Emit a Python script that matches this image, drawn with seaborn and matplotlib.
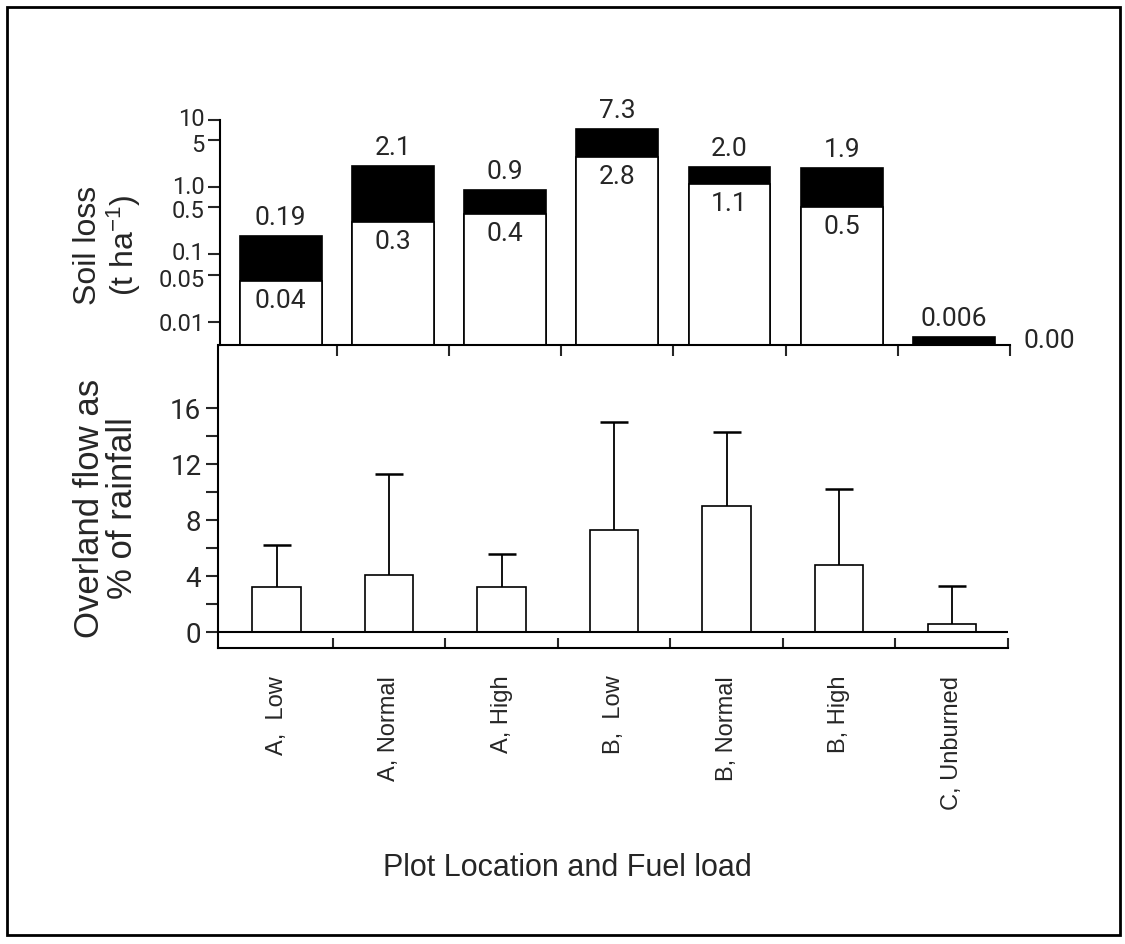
import seaborn as sns
import matplotlib.pyplot as plt
import matplotlib.patches as patches
import matplotlib.transforms as mtrans
import numpy as np

sns.set_style('ticks')
plt.rcParams['font.family'] = ['Liberation Sans', 'DejaVu Sans']
plt.rcParams['mathtext.default'] = 'regular'

# data
categories = ['A,  Low', 'A, Normal', 'A, High', 'B,  Low', 'B, Normal', 'B, High', 'C, Unburned']
soil_low = [0.04, 0.3, 0.4, 2.8, 1.1, 0.5, 0.0]
soil_high = [0.19, 2.1, 0.9, 7.3, 2.0, 1.9, 0.006]
low_labels = ['0.04', '0.3', '0.4', '2.8', '1.1', '0.5', '0.00']
high_labels = ['0.19', '2.1', '0.9', '7.3', '2.0', '1.9', '0.006']
flow_mean = [3.2, 4.1, 3.2, 7.3, 9.0, 4.8, 0.6]
flow_sd = [3.0, 7.2, 2.4, 7.7, 5.3, 5.4, 2.7]

soil_ticks = [0.01, 0.05, 0.1, 0.5, 1, 5, 10]
soil_ticklabels = ['0.01', '0.05', '0.1', '0.5', '1.0', '5', '10']
flow_ticks = [0, 4, 8, 12, 16]
flow_minor = [2, 6, 10, 14]

num_font = 'Roboto'
W, H = 1125, 944

fig = plt.figure(figsize=(W / 100, H / 100), dpi=100)
ax1 = fig.add_axes([220 / W, 1 - 345 / H, 790 / W, 225 / H])
ax2 = fig.add_axes([218 / W, 1 - 648 / H, 790 / W, 303 / H])
ax2.patch.set_alpha(0)

# --- soil loss (log) ---
sns.barplot(x=categories, y=soil_high, color='black', edgecolor='black',
            saturation=1, width=0.73, linewidth=1.2, ax=ax1)
sns.barplot(x=categories, y=soil_low, color='white', edgecolor='black',
            saturation=1, width=0.73, linewidth=1.2, ax=ax1)
ax1.set_yscale('log')
ax1.set_ylim(0.0045, 10)
ax1.set_xlim(-0.54, 6.5)
ax1.set_yticks(soil_ticks)
ax1.set_yticklabels(soil_ticklabels)
ax1.yaxis.set_minor_locator(plt.NullLocator())
ax1.set_xticks([])
ax1.set_xticks(np.arange(len(categories)) + 0.5, minor=True)
ax1.tick_params(axis='y', which='major', direction='out', length=9, width=1.5,
                labelsize=17, pad=2)
ax1.tick_params(axis='x', which='minor', direction='out', length=8, width=1.5)
# nudge crowded log labels apart a little, as in the original
nudge = {'10': 3, '5': -3, '1.0': 2, '0.5': -2, '0.1': 3, '0.05': -3}
for lab in ax1.get_yticklabels():
    lab.set_fontfamily(num_font)
    dy = nudge.get(lab.get_text(), 0)
    lab.set_transform(lab.get_transform() +
                      mtrans.ScaledTranslation(0, dy / 100, fig.dpi_scale_trans))
ax1.set_xlabel('')
ax1.set_ylabel('')
sns.despine(ax=ax1)
for s in ['left', 'bottom']:
    ax1.spines[s].set_linewidth(1.5)
    ax1.spines[s].set_color('black')

for i in range(len(categories)):
    ax1.annotate(high_labels[i], (i, soil_high[i]), xytext=(0, 6),
                 textcoords='offset pixels', ha='center', va='bottom',
                 fontsize=19, family=num_font, annotation_clip=False)
    if i < len(categories) - 1:
        ax1.annotate(low_labels[i], (i, soil_low[i]), xytext=(0, -8),
                     textcoords='offset pixels', ha='center', va='top',
                     fontsize=19, family=num_font)
    else:
        ax1.annotate(low_labels[i], (i, soil_high[i]), xytext=(95, -4),
                     textcoords='offset pixels', ha='center', va='center',
                     fontsize=19, family=num_font, annotation_clip=False)

# --- overland flow ---
sns.barplot(x=categories, y=flow_mean, color='white', edgecolor='black',
            saturation=1, width=0.43, linewidth=1.2, ax=ax2)
xpos = np.arange(len(categories))
eb = ax2.errorbar(xpos, flow_mean, yerr=[np.zeros(len(flow_sd)), flow_sd], fmt='none',
                  ecolor='black', elinewidth=1.3, capsize=10, capthick=1.8, zorder=3)
# only the upper cap, like the original
eb[1][0].set_visible(False)
ax2.axhline(0, color='black', lw=1.5, zorder=4)
ax2.set_ylim(-1.14, 20.5)
ax2.set_xlim(-0.52, 6.42)
ax2.set_yticks(flow_ticks)
ax2.set_yticks(flow_minor, minor=True)
ax2.set_xticks(xpos, minor=False)
ax2.set_xticklabels(categories, rotation=90, va='top', fontsize=17)
ax2.set_xticks(xpos + 0.5, minor=True)
ax2.tick_params(axis='y', which='both', direction='out', length=9, width=1.5,
                labelsize=20, pad=3)
ax2.tick_params(axis='x', which='major', length=0, pad=20)
ax2.tick_params(axis='x', which='minor', direction='in', length=7, width=1.5)
for lab in ax2.get_yticklabels():
    lab.set_fontfamily(num_font)
ax2.set_xlabel('')
ax2.set_ylabel('')
sns.despine(ax=ax2)
for s in ['left', 'bottom']:
    ax2.spines[s].set_linewidth(1.5)
    ax2.spines[s].set_color('black')

# --- labels and frame ---
fig.text(108 / W, 1 - 245 / H, 'Soil loss\n(t ha$^{-1}$)', rotation=90,
         ha='center', va='center', multialignment='center', fontsize=23,
         linespacing=1.05)
fig.text(106 / W, 1 - 508 / H, 'Overland flow as\n% of rainfall', rotation=90,
         ha='center', va='center', multialignment='center', fontsize=25,
         linespacing=1.0)
fig.text(567 / W, 1 - 868 / H, 'Plot Location and Fuel load', ha='center',
         va='center', fontsize=22)

fig.patches.append(patches.Rectangle((7 / W, 1 - 935 / H), 1113 / W, 928 / H,
                                     transform=fig.transFigure, fill=False,
                                     edgecolor='black', lw=2))

plt.savefig('out.png', dpi=100)
